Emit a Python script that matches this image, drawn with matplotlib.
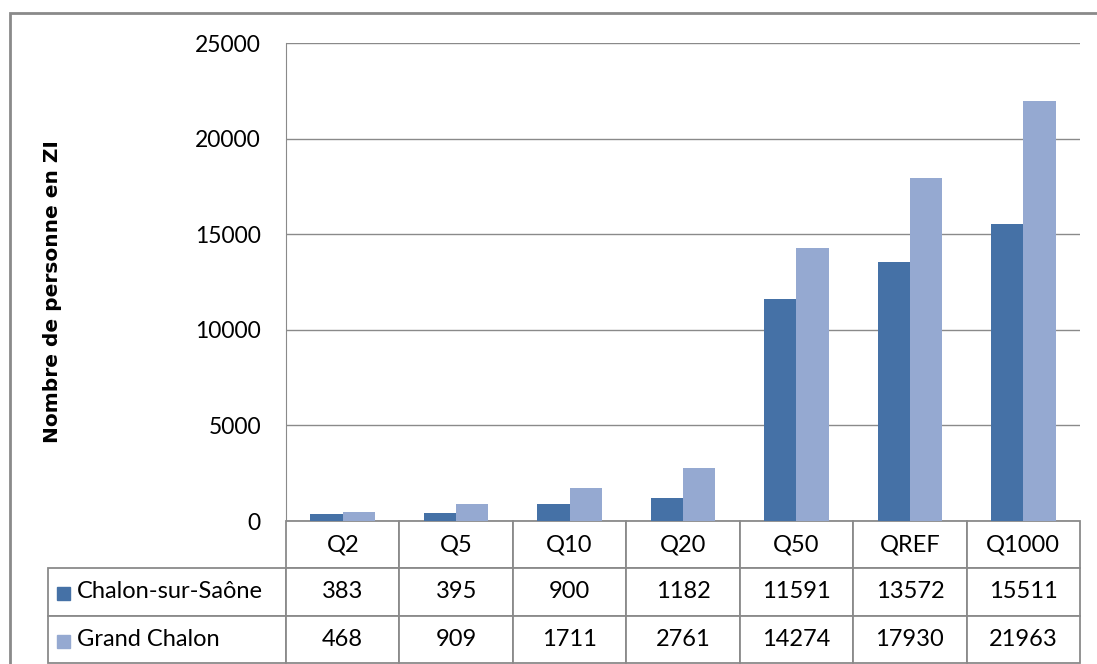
import matplotlib
matplotlib.use('Agg')
import matplotlib.pyplot as plt
import numpy as np
from matplotlib.patches import Rectangle

categories = ['Q2', 'Q5', 'Q10', 'Q20', 'Q50', 'QREF', 'Q1000']
chalon = [383, 395, 900, 1182, 11591, 13572, 15511]
grand_chalon = [468, 909, 1711, 2761, 14274, 17930, 21963]
series_names = ['Chalon-sur-Saône', 'Grand Chalon']

dark = '#4571a6'
light = '#95a9d1'
grey = '#8a8a8a'

plt.rcParams['font.family'] = ['Lato', 'DejaVu Sans']

W, H = 1097, 664
fig = plt.figure(figsize=(W / 100, H / 100), dpi=100)

# plot area in pixels
x0, x1, ytop, ybot = 286, 1080, 43, 521
ax = fig.add_axes([x0 / W, 1 - ybot / H, (x1 - x0) / W, (ybot - ytop) / H])

x = np.arange(len(categories))
bw = 0.285
ax.bar(x - bw / 2, chalon, bw, color=dark, zorder=3)
ax.bar(x + bw / 2, grand_chalon, bw, color=light, zorder=3)
ax.set_xlim(-0.5, len(categories) - 0.5)
ax.set_ylim(0, 25000)
ax.set_yticks(range(0, 25001, 5000))
ax.yaxis.grid(True, color=grey, lw=1)
ax.set_axisbelow(True)
ax.set_xticks([])
for s in ['top', 'right', 'bottom']:
    ax.spines[s].set_visible(False)
ax.spines['left'].set_color(grey)
ax.tick_params(axis='y', length=0, pad=18, labelsize=16.5)
ax.set_ylabel('Nombre de personne en ZI', fontweight='bold', fontsize=14.5,
              family=['DejaVu Sans'])
ax.yaxis.set_label_coords(-0.282, 0.48)

# data table under the plot
tl, tb, tr = 48, 663, 1080
cell_text = [[''] + categories,
             [series_names[0]] + [str(v) for v in chalon],
             [series_names[1]] + [str(v) for v in grand_chalon]]
col_w = [x0 - tl] + [(x1 - x0) / len(categories)] * len(categories)
tab = ax.table(cellText=cell_text, colWidths=col_w,
               bbox=[(tl - x0) / (x1 - x0), -(tb - ybot) / (ybot - ytop),
                     (tr - tl) / (x1 - x0), (tb - ybot) / (ybot - ytop)],
               cellLoc='center')
tab.auto_set_font_size(False)
tab.set_fontsize(17)
for (r, c), cell in tab.get_celld().items():
    cell.set_edgecolor(grey)
    cell.set_linewidth(1.3)
    if r == 0 and c == 0:
        cell.visible_edges = 'open'
    if c == 0 and r > 0:
        cell._loc = 'left'
        cell.get_text().set_ha('left')
        cell.PAD = 29 / (x0 - tl)

# legend keys in the row labels
for i, col in enumerate([dark, light]):
    yc = 593 + 48 * i
    fig.patches.append(Rectangle((57 / W, 1 - (yc + 6.5) / H), 13 / W, 13 / H,
                                 transform=fig.transFigure, color=col))

# outer chart border
fig.patches.append(Rectangle((10 / W, -0.1), 1.2, 1.1 - 13 / H, transform=fig.transFigure,
                             fill=False, ec=grey, lw=2))

fig.savefig('out.png', dpi=100)
